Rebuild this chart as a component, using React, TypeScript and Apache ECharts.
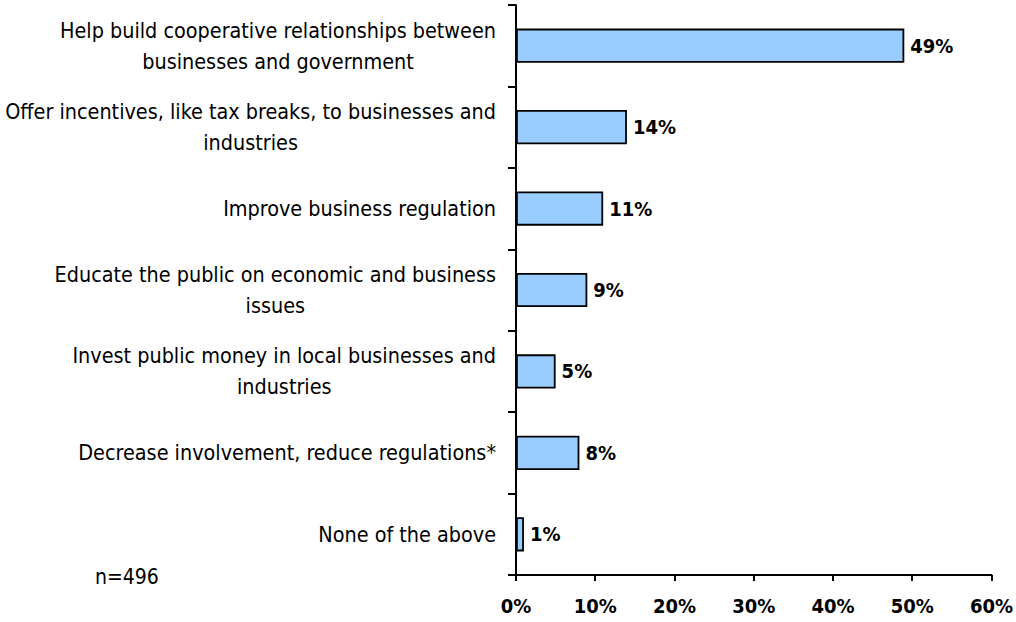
import React, { useEffect, useRef } from "react";
import * as echarts from "echarts";

const categories = [
  "Help build cooperative relationships between\nbusinesses and government",
  "Offer incentives, like tax breaks, to businesses and\nindustries",
  "Improve business regulation",
  "Educate the public on economic and business\nissues",
  "Invest public money in local businesses and\nindustries",
  "Decrease involvement, reduce regulations*",
  "None of the above",
];
const values = [49, 14, 11, 9, 5, 8, 1];
const xTicks = [0, 10, 20, 30, 40, 50, 60];
const note = "n=496";

const FONT = "'DejaVu Sans Condensed', 'Liberation Sans Narrow', 'Liberation Sans', sans-serif";

export default function App() {
  const ref = useRef<HTMLDivElement>(null);
  useEffect(() => {
    if (!ref.current) return;
    const chart = echarts.init(ref.current, null, { renderer: "svg" });
    chart.setOption({
      animation: false,
      grid: { left: 516, right: 22, top: 5, bottom: 47, containLabel: false },
      xAxis: {
        type: "value",
        min: xTicks[0],
        max: xTicks[xTicks.length - 1],
        interval: 10,
        splitLine: { show: false },
        axisLine: { show: true, lineStyle: { color: "#000", width: 2 } },
        axisTick: { show: true, length: 6, lineStyle: { color: "#000", width: 2 } },
        axisLabel: {
          formatter: (v: number) => v + "%",
          color: "#000",
          fontFamily: FONT,
          fontWeight: "bold",
          fontSize: 20,
          margin: 21,
        },
      },
      yAxis: {
        type: "category",
        inverse: true,
        data: categories,
        axisLine: { show: true, lineStyle: { color: "#000", width: 2 } },
        axisTick: { show: true, length: 8, lineStyle: { color: "#000", width: 2 } },
        axisLabel: {
          margin: 20,
          align: "right",
          formatter: (v: string) =>
            v
              .split("\n")
              .map((l) => `{c|${l}}`)
              .join("\n"),
          rich: {
            c: {
              align: "center",
              fontFamily: FONT,
              fontSize: 21.4,
              color: "#000",
              lineHeight: 31,
            },
          },
        },
      },
      series: [
        {
          type: "bar",
          data: values,
          barCategoryGap: "58%",
          itemStyle: { color: "#99CCFF", borderColor: "#000", borderWidth: 1.8 },
          label: {
            show: true,
            position: "right",
            distance: 6,
            formatter: "{c}%",
            color: "#000",
            fontFamily: FONT,
            fontWeight: "bold",
            fontSize: 20,
          },
        },
      ],
      graphic: [
        {
          type: "text",
          left: 95,
          top: 566,
          style: { text: note, fontFamily: FONT, fontSize: 21, fill: "#000" },
        },
      ],
    });
    return () => chart.dispose();
  }, []);
  return <div ref={ref} style={{ width: 1016, height: 622, position: "absolute", left: 0, top: 0 }} />;
}
